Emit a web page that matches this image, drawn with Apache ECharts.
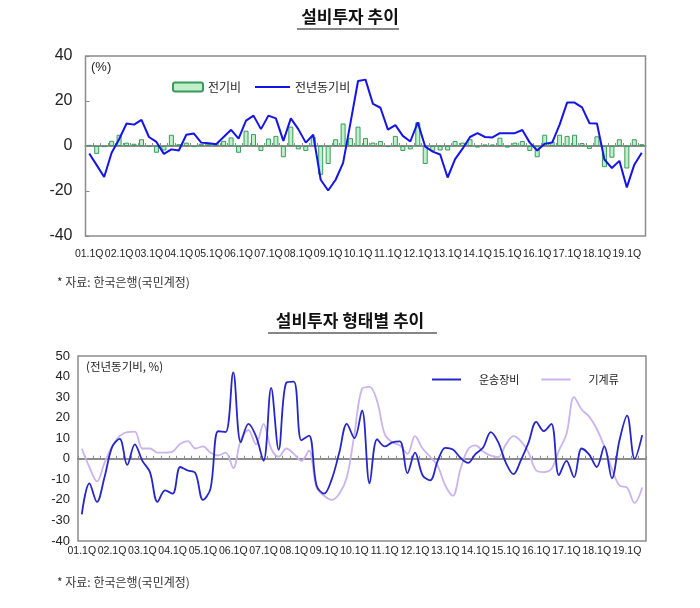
<!DOCTYPE html>
<html><head><meta charset="utf-8">
<script src="https://cdn.jsdelivr.net/npm/echarts@6/dist/echarts.min.js"></script>
<style>html,body{margin:0;padding:0;background:#fff}#c{width:700px;height:608px}</style>
</head><body><div id="c"></div>
<script>
// Categories: 2001Q1 .. 2019Q3 (quarterly)
const years = ['01','02','03','04','05','06','07','08','09','10','11','12','13','14','15','16','17','18','19'];
const quarterNames = ['1','2','3','4'];
const categories = [];
years.forEach(y => quarterNames.forEach(q => categories.push(y + '.' + q + 'Q')));
categories.length = 75;

// Top chart: 설비투자 전기비 (bars) / 전년동기비 (line), %
const qoqBars = [
  0.5,-3.5,-0.5,2.3,5,1.5,1,3,-0.3,-3,
  -2,5,0.8,1.5,-0.5,1,1,1.3,2.3,3.8,
  -3,6.8,5.3,-2.2,3.3,4.5,-5,8.6,-1.5,-2.2,
  4,-12.8,-8,3,10,3.5,8.6,3.5,1.5,2.2,
  -0.5,4.5,-2.2,-1.5,10.5,-8,-2.2,-2,-2,2.2,
  1.5,3,-0.7,0.7,0.7,3.7,-0.7,1.5,2.2,-2.2,
  -5,5,2,5,4.5,5,1.3,-1.3,4.3,-9.4,
  -5.2,3,-10,3,0.8
];
const yoyLine = [
  -3.3,-8.5,-13.8,-3,3,10,9.5,11.6,4,1.8,
  -3.5,-1.5,-2,5,5.6,1.5,1.2,0.8,4,7.2,
  3.3,11.3,13.5,7.5,13.5,12.3,2.3,12.3,7.5,1.5,
  5,-15,-19.8,-15,-7.5,10.5,28.9,29.5,18.7,17,
  7.3,9.3,4.5,2,10.5,-0.3,-2.5,-3.8,-14,-5.8,
  -1.2,4,5.7,4,3.8,5.7,5.7,5.7,7.1,1.5,
  -2,1,1.5,9.5,19.3,19.3,17.2,10.1,10,-6,
  -9.8,-6.6,-18.4,-8.3,-3
];

// Bottom chart: 설비투자 형태별 전년동기비, %
const transportEquip = [
  -27,-12,-21,-9,5.7,9.7,-3,7,-1,-6.5,
  -21,-15.4,-17,-4,-5.7,-7,-20,-14.5,13.4,13,
  42,8,17,11,-1,34.5,4.4,37,37.5,9,
  11.3,-13,-17,-10,3,17,10,23.5,-12,9.5,
  6,8,8.5,-7,3,-8,-10.5,-1,5.3,4.5,
  0.5,-2,2.4,5.5,13,8,-2,-7.5,-0.5,8,
  18,13.5,17,-8,-1,-9,5,2,-4,6,
  -9.5,9,21,0,11.5
];
const machinery = [
  4.9,-4,-11,-2,6,11,13,13.2,5,5,
  3,3,3.5,7.3,8.6,5,6,3,1.6,3,
  -4.5,9.2,14,7,17,5,1,5,2.4,-1,
  4,-14,-18,-20,-17,-9,12,34,35,28,
  12,8,6.5,2.4,11,5,1,-3.5,-13,-18,
  -5,4.5,6.5,3.5,1.5,0.8,7,11,8.5,3,
  -5.7,-6.5,-5,4,12,30,24,20.5,14.5,6,
  -5,-13,-14,-21.5,-14
];

const NARROW = "'Liberation Sans Narrow','Liberation Sans',sans-serif";
const SANS = "'Liberation Sans','DejaVu Sans',sans-serif";
const KR = "'Noto Sans CJK KR','Noto Sans CJK SC',sans-serif";

const chart = echarts.init(document.getElementById('c'), null, {renderer: 'canvas'});

const option = {
  backgroundColor: '#fff',
  animation: false,
  grid: [
    {left: 85.5, top: 56, width: 560, height: 180, show: true, borderColor: '#8c8c8c', borderWidth: 1.5, backgroundColor: 'transparent'},
    {left: 78, top: 356, width: 568, height: 185, show: true, borderColor: '#8c8c8c', borderWidth: 1.5, backgroundColor: 'transparent'}
  ],
  legend: [
    {data: ['전기비'], left: 167, top: 76, itemWidth: 30, itemHeight: 9,
     textStyle: {fontFamily: KR, fontSize: 12, color: '#222'}},
    {data: [{name: '전년동기비', icon: 'rect'}], left: 250, top: 76, itemWidth: 35, itemHeight: 2,
     textStyle: {fontFamily: KR, fontSize: 12, color: '#222'}},
    {data: [{name: '운송장비', icon: 'rect'}, {name: '기계류', icon: 'rect'}], left: 427, top: 369,
     itemWidth: 29, itemHeight: 2, itemGap: 22,
     textStyle: {fontFamily: KR, fontSize: 11, color: '#222', padding: [0, 0, 0, 13]}}
  ],
  xAxis: [
    {gridIndex: 0, type: 'category', data: categories, boundaryGap: true, position: 'bottom',
     axisLine: {show: false, onZero: false}, axisTick: {show: false},
     axisLabel: {interval: 3, hideOverlap: false, fontFamily: NARROW, fontSize: 10.5, color: '#222', margin: 13}},
    {gridIndex: 0, type: 'category', data: categories, boundaryGap: true, position: 'bottom',
     axisLine: {show: true, onZero: true, lineStyle: {color: '#8c8c8c', width: 2}},
     axisTick: {show: true, inside: true, length: 3, interval: 0, lineStyle: {color: '#8c8c8c'}},
     axisLabel: {show: false}},
    {gridIndex: 1, type: 'category', data: categories, boundaryGap: true, position: 'bottom',
     axisLine: {show: false, onZero: false}, axisTick: {show: false},
     axisLabel: {interval: 3, hideOverlap: false, fontFamily: SANS, fontSize: 10.5, color: '#222', margin: 5}},
    {gridIndex: 1, type: 'category', data: categories, boundaryGap: true, position: 'bottom',
     axisLine: {show: true, onZero: true, lineStyle: {color: '#8c8c8c', width: 2}},
     axisTick: {show: true, inside: true, length: 3, interval: 0, lineStyle: {color: '#8c8c8c'}},
     axisLabel: {show: false}}
  ],
  yAxis: [
    {gridIndex: 0, type: 'value', min: -40, max: 40, interval: 20,
     axisLine: {show: false}, splitLine: {show: false},
     axisTick: {show: true, inside: true, length: 4, lineStyle: {color: '#8c8c8c'}},
     axisLabel: {fontFamily: NARROW, fontSize: 16, color: '#222', margin: 13}},
    {gridIndex: 1, type: 'value', min: -40, max: 50, interval: 10,
     axisLine: {show: false}, splitLine: {show: false}, axisTick: {show: false},
     axisLabel: {fontFamily: SANS, fontSize: 13, color: '#222', margin: 8}}
  ],
  series: [
    {name: '전기비', type: 'bar', xAxisIndex: 0, yAxisIndex: 0, data: qoqBars, barWidth: 5,
     itemStyle: {color: '#bff0cb', borderColor: '#3a9a5a', borderWidth: 1}},
    {name: '전년동기비', type: 'line', xAxisIndex: 0, yAxisIndex: 0, data: yoyLine, symbol: 'none',
     lineStyle: {color: '#1414e6', width: 2}, itemStyle: {color: '#1414e6'}, z: 5},
    {name: '기계류', type: 'line', xAxisIndex: 2, yAxisIndex: 1, data: machinery, symbol: 'none', smooth: 0.35,
     lineStyle: {color: '#cbb3ec', width: 1.8}, itemStyle: {color: '#cbb3ec'}},
    {name: '운송장비', type: 'line', xAxisIndex: 2, yAxisIndex: 1, data: transportEquip, symbol: 'none', smooth: 0.35,
     lineStyle: {color: '#2626c8', width: 1.8}, itemStyle: {color: '#2626c8'}, z: 6}
  ],
  graphic: [
    {type: 'text', left: 'center', top: 8, style: {text: '설비투자 추이', font: 'bold 17px ' + KR, fill: '#111'}, x: -2},
    {type: 'line', shape: {x1: 297, y1: 29, x2: 399, y2: 29}, style: {stroke: '#111', lineWidth: 1.2}},
    {type: 'text', left: 57, top: 276, style: {text: '* 자료: 한국은행(국민계정)', font: '12px ' + KR, fill: '#333'}},
    {type: 'text', left: 91, top: 61, style: {text: '(%)', font: '13px ' + SANS, fill: '#222'}},
    {type: 'text', left: 'center', top: 312, style: {text: '설비투자 형태별 추이', font: 'bold 17px ' + KR, fill: '#111'}, x: 2},
    {type: 'line', shape: {x1: 268, y1: 333, x2: 437, y2: 333}, style: {stroke: '#111', lineWidth: 1.2}},
    {type: 'text', left: 86, top: 361, style: {text: '(전년동기비, %)', font: '11.5px ' + KR, fill: '#222'}},
    {type: 'text', left: 57, top: 576, style: {text: '* 자료: 한국은행(국민계정)', font: '12px ' + KR, fill: '#333'}}
  ]
};
chart.setOption(option);
</script>
</body></html>
